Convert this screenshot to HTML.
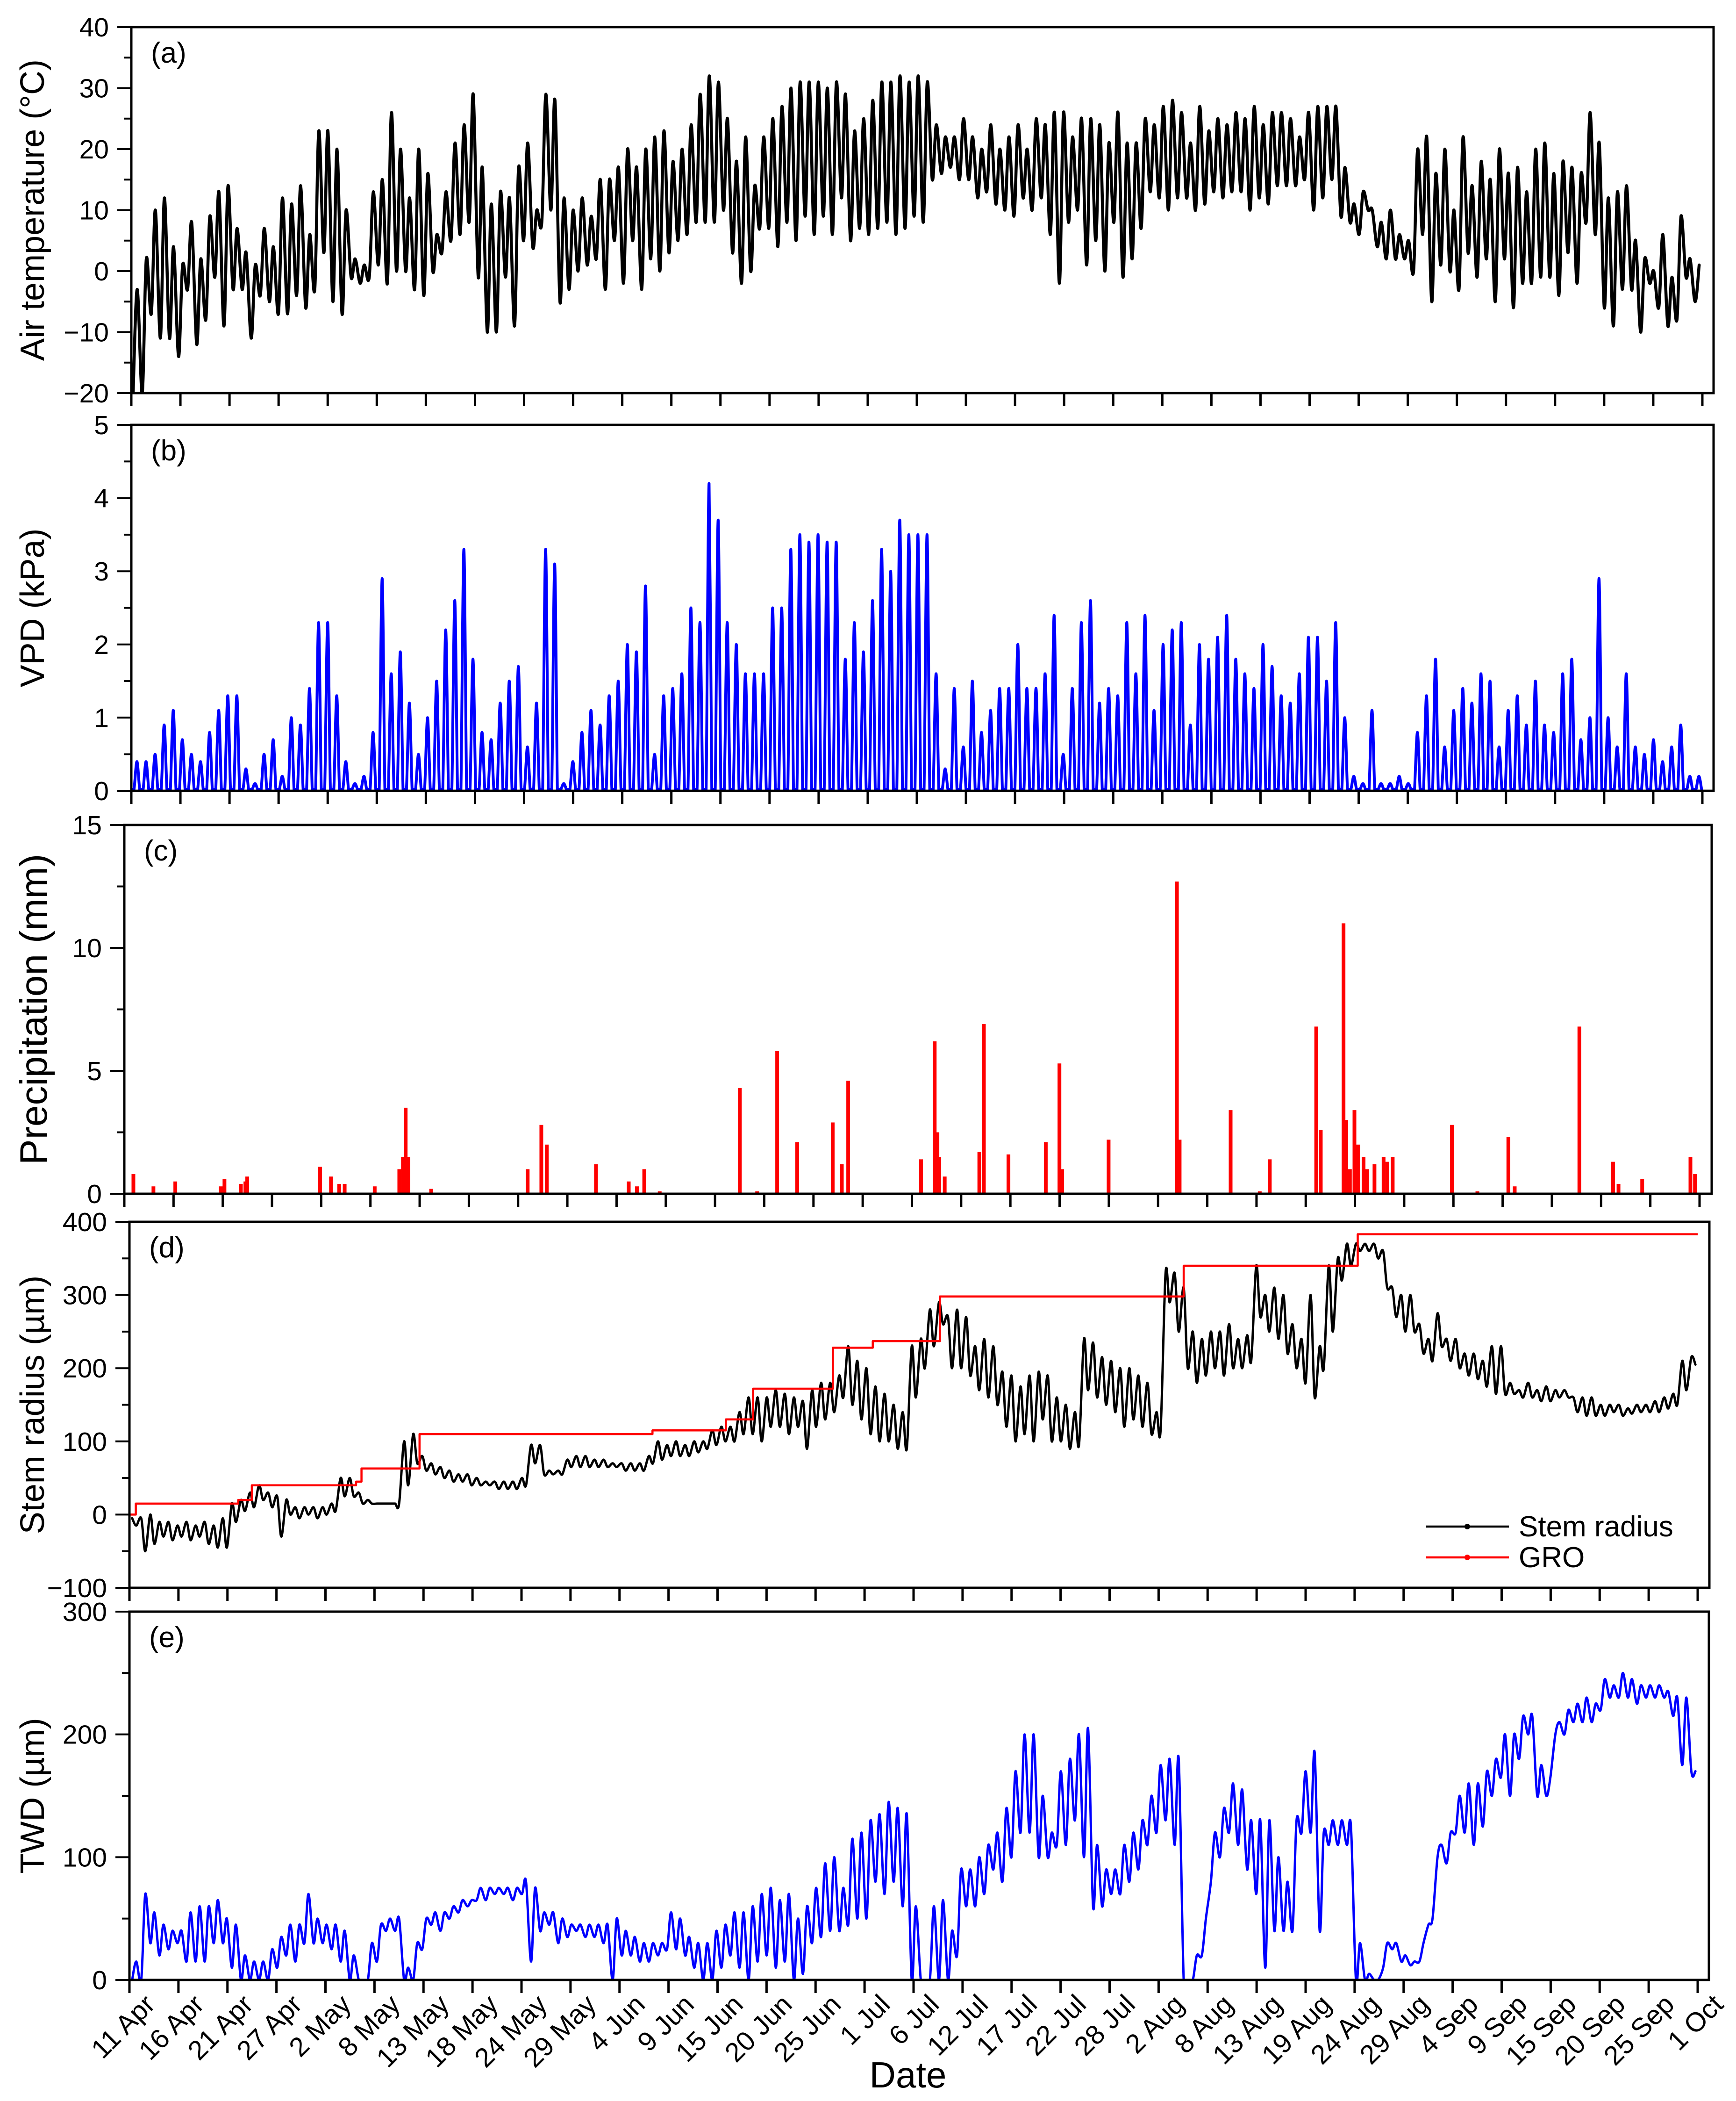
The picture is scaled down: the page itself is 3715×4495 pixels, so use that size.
<!DOCTYPE html>
<html><head><meta charset="utf-8"><style>html,body{margin:0;padding:0;background:#fff}svg{display:block}</style></head>
<body>
<svg id="chart" xmlns="http://www.w3.org/2000/svg" width="3715" height="4495" viewBox="0 0 3715 4495" font-family="Liberation Sans, Arial, sans-serif"></svg>
<script>
// ---- data ----
const dateLabels = ["11 Apr","16 Apr","21 Apr","27 Apr","2 May","8 May","13 May","18 May","24 May","29 May","4 Jun","9 Jun","15 Jun","20 Jun","25 Jun","1 Jul","6 Jul","12 Jul","17 Jul","22 Jul","28 Jul","2 Aug","8 Aug","13 Aug","19 Aug","24 Aug","29 Aug","4 Sep","9 Sep","15 Sep","20 Sep","25 Sep","1 Oct"];
const tempMax = [-3,2,10,12,4,1,8,2,9,13, 14,7,3,1,7,4,12,11,14,6, 23,23,20,10,2,1,13,15,26,20, 12,20,16,6,13,21,24,29,17,11, 13,12,17,21,10,29,28,12,10,12, 9,15,15,17,20,17,20,22,23,18, 20,24,29,32,31,25,18,22,14,22, 25,27,30,31,31,31,30,31,29,23, 25,28,31,31,32,31,32,31,24,22, 22,25,22,20,24,20,22,24,20,25, 24,26,26,22,25,25,24,21,26,21, 21,25,24,27,28,26,21,27,23,25, 24,26,25,27,24,26,26,25,22,26, 27,27,27,17,11,13,10,8,10,6, 5,20,22,16,20,10,22,14,18,15, 20,16,17,13,20,21,16,18,17,16, 26,21,12,13,14,5,2,0,6,-1, 9,2,1];
const tempMin = [-20,-20,-7,-11,-11,-14,-3,-12,-8,-1, -9,-3,-3,-11,-4,-5,-7,-7,-4,-6, -3,3,-5,-7,-1,-2,-1,1,-2,0, 0,-3,-4,0,3,5,6,8,-1,-10, -10,-1,-9,5,4,8,10,-5,-3,0, 1,2,-3,5,-2,5,-3,2,0,3, 5,6,8,8,8,10,3,-2,0,7, 7,4,8,5,9,6,9,6,12,5, 7,6,7,8,6,7,9,8,15,16, 17,15,15,12,13,11,10,9,12,10, 12,6,-2,8,10,1,5,0,8,-1, 2,7,13,12,10,12,12,10,11,13, 12,13,13,10,12,11,14,14,14,15, 10,12,15,9,8,6,10,4,2,2, 2,0,6,-5,1,0,-3,3,-1,2, -5,2,-6,-2,-2,-1,-1,-4,3,-2, 8,6,-6,-9,-3,-3,-10,-2,-6,-9, -8,-1,-5];
const vpdMax = [0.4,0.4,0.5,0.9,1.1,0.7,0.5,0.4,0.8,1.1, 1.3,1.3,0.3,0.1,0.5,0.7,0.2,1.0,0.9,1.4, 2.3,2.3,1.3,0.4,0.1,0.2,0.8,2.9,1.6,1.9, 1.2,0.5,1.0,1.5,2.2,2.6,3.3,1.8,0.8,0.7, 1.2,1.5,1.7,0.6,1.2,3.3,3.1,0.1,0.4,0.8, 1.1,0.9,1.3,1.5,2.0,1.9,2.8,0.5,1.3,1.4, 1.6,2.5,2.3,4.2,3.7,2.3,2.0,1.6,1.6,1.6, 2.5,2.5,3.3,3.5,3.4,3.5,3.4,3.4,1.8,2.3, 1.9,2.6,3.3,3.0,3.7,3.5,3.5,3.5,1.6,0.3, 1.4,0.6,1.5,0.8,1.1,1.4,1.4,2.0,1.4,1.4, 1.6,2.4,0.5,1.4,2.3,2.6,1.2,1.4,1.3,2.3, 1.6,2.4,1.1,2.0,2.2,2.3,0.9,2.0,1.8,2.1, 2.4,1.8,1.6,1.4,2.0,1.7,1.3,1.2,1.6,2.1, 2.1,1.5,2.3,1.0,0.2,0.1,1.1,0.1,0.1,0.2, 0.1,0.8,1.3,1.8,0.6,1.1,1.4,1.2,1.6,1.5, 0.6,1.1,1.3,0.9,1.5,0.9,0.8,1.6,1.8,0.7, 1.0,2.9,1.0,0.6,1.6,0.6,0.5,0.7,0.4,0.6, 0.9,0.2,0.2];
const vpdBase = 0.02;
const precipDays = [1.0,3.2,5.6,10.6,11.0,12.8,13.3,13.5,21.5,22.7,23.6,24.2,27.5,30.2,30.6,30.9,31.2,33.7,44.3,45.8,46.4,51.8,55.4,56.3,57.1,58.8,67.6,69.5,71.7,73.9,77.8,78.8,79.5,87.5,89.0,89.3,89.5,90.1,93.9,94.4,97.1,101.2,102.7,103.0,108.1,115.6,115.9,121.5,124.7,125.8,130.9,131.4,133.9,134.2,134.6,135.1,135.5,136.1,136.5,137.3,138.3,138.7,139.3,145.8,148.6,152.0,152.7,159.8,163.5,164.1,166.7,172.0,172.5];
const precipVals = [0.8,0.3,0.5,0.3,0.6,0.4,0.5,0.7,1.1,0.7,0.4,0.4,0.3,1.0,1.5,3.5,1.5,0.2,1.0,2.8,2.0,1.2,0.5,0.3,1.0,0.1,4.3,0.1,5.8,2.1,2.9,1.2,4.6,1.4,6.2,2.5,1.5,0.7,1.7,6.9,1.6,2.1,5.3,1.0,2.2,12.7,2.2,3.4,0.1,1.4,6.8,2.6,11.0,3.0,1.0,3.4,2.0,1.5,1.0,1.2,1.5,1.3,1.5,2.8,0.1,2.3,0.3,6.8,1.3,0.4,0.6,1.5,0.8];
const stemMax = [-5,-5,0,-10,-10,-15,-10,-15,-10,-15, -5,15,20,30,40,30,25,20,10,10, 10,10,15,50,50,30,20,15,15,15, 100,110,80,70,65,60,55,55,50,45, 45,45,45,50,95,95,60,60,75,80, 80,75,75,70,70,70,70,80,100,95, 100,95,100,100,115,120,120,140,160,160, 160,170,165,160,155,170,180,180,190,230, 210,200,175,165,150,140,230,240,280,290, 270,280,270,230,240,230,195,190,175,190, 195,190,160,150,140,240,235,215,210,200, 200,190,180,140,330,330,310,250,240,250, 250,260,240,245,340,300,310,300,260,240, 300,230,340,350,370,370,370,370,360,310, 300,300,260,240,275,240,240,220,220,210, 230,230,180,170,180,170,175,170,170,160, 160,160,150,150,150,145,150,150,155,160, 165,210,215];
const stemMin = [-15,-50,-40,-30,-35,-30,-35,-30,-40,-45, -45,-10,5,10,20,10,-30,0,-5,0, -5,0,5,25,25,15,15,15,15,15, 40,70,60,55,50,45,45,40,40,40, 35,35,35,40,70,55,55,55,65,65, 65,65,65,65,60,60,60,70,75,80, 80,80,85,90,95,100,100,110,110,100, 120,120,110,120,90,120,130,140,160,150, 130,110,100,100,90,90,160,200,230,260, 200,200,190,170,160,150,120,100,110,100, 130,100,100,90,95,170,160,150,140,120, 130,120,110,115,290,250,200,180,190,200, 190,200,200,210,270,250,240,220,200,180, 160,200,250,320,340,360,360,350,310,270, 250,250,220,210,230,210,200,190,185,175, 165,165,165,160,160,155,155,160,160,140, 135,135,135,140,135,138,140,140,140,145, 150,170,205];
const groDays = [0,0.7,12,13.5,25,25.6,32,57.7,65.8,68.8,77.6,82,89.4,116.3,135.5,173];
const groVals = [0,15,20,40,45,63,110,115,130,172,228,237,298,340,383,383];
const twdMax = [15,70,55,45,40,40,55,60,60,65, 50,45,20,15,15,25,35,45,45,70, 50,45,45,40,20,0,30,45,50,50, 10,30,50,55,55,60,65,65,75,75, 75,75,75,80,75,55,55,50,45,45, 45,45,45,50,40,35,30,30,30,55, 50,35,30,30,40,45,55,55,60,70, 75,65,70,50,60,75,95,100,75,115, 120,130,135,145,140,135,60,0,60,65, 40,90,90,100,110,120,140,170,200,200, 150,120,170,180,200,205,110,90,90,110, 120,130,150,175,180,180,0,20,50,120, 140,160,155,130,130,130,100,80,130,170, 185,120,130,130,125,30,5,0,30,30, 20,15,30,50,110,120,150,160,160,170, 180,200,200,215,215,175,165,210,220,225, 230,225,245,240,250,245,240,240,240,235, 230,230,170];
const twdMin = [0,0,30,20,25,30,15,15,15,30, 30,10,0,0,0,0,10,20,15,30, 30,30,25,15,0,0,0,15,40,40, 0,0,25,45,40,50,55,60,65,65, 70,70,65,70,15,40,45,30,35,40, 35,35,30,0,20,20,15,15,20,25, 25,20,10,0,0,10,20,10,0,15, 20,10,15,0,5,30,35,40,40,45, 50,50,80,70,80,60,0,0,0,0, 0,20,60,60,70,90,80,100,120,120, 100,100,110,110,130,100,60,60,70,70, 80,90,110,120,130,110,0,0,20,80, 100,120,110,90,70,10,40,40,40,120, 120,40,110,110,110,0,0,0,10,25, 15,12,15,45,100,95,120,120,110,125, 150,165,150,180,200,150,150,200,200,210, 210,210,220,230,230,230,225,230,230,230, 215,175,170];

// ---- layout ----
const NS = "http://www.w3.org/2000/svg";
const svg = document.getElementById('chart');
const NDAYS = 173;
function mk(tag, attrs, parent) {
  const e = document.createElementNS(NS, tag);
  for (const k in attrs) e.setAttribute(k, attrs[k]);
  (parent || svg).appendChild(e);
  return e;
}
const panels = [
  {id:'a', x0:281, x1:3667, tEnd:3643, top:58, bot:841, ymin:-20, ymax:40, major:10, minor:5, ticks:[-20,-10,0,10,20,30,40], title:'Air temperature (°C)', tsize:72},
  {id:'b', x0:281, x1:3667, tEnd:3643, top:909, bot:1692, ymin:0, ymax:5, major:1, minor:0.5, ticks:[0,1,2,3,4,5], title:'VPD (kPa)', tsize:72},
  {id:'c', x0:266, x1:3663, tEnd:3637, top:1765, bot:2554, ymin:0, ymax:15, major:5, minor:2.5, ticks:[0,5,10,15], title:'Precipitation (mm)', tsize:82},
  {id:'d', x0:277, x1:3658, tEnd:3633, top:2614, bot:3397, ymin:-100, ymax:400, major:100, minor:50, ticks:[-100,0,100,200,300,400], title:'Stem radius (µm)', tsize:72},
  {id:'e', x0:277, x1:3657, tEnd:3633, top:3448, bot:4236, ymin:0, ymax:300, major:100, minor:50, ticks:[0,100,200,300], title:'TWD (µm)', tsize:72}
];
function xs(p, d) { return p.x0 + d / NDAYS * (p.tEnd - p.x0); }
function ys(p, v) { return p.bot - (v - p.ymin) / (p.ymax - p.ymin) * (p.bot - p.top); }
function fmt(v) { return v < 0 ? '\u2212' + (-v) : String(v); }
const defs = mk('defs', {});

panels.forEach((p, pi) => {
  const g = mk('g', {});
  
  
  const cp = mk('clipPath', {id:'clip-' + p.id}, defs);
  mk('rect', {x:p.x0, y:p.top, width:p.x1 - p.x0, height:p.bot - p.top}, cp);
  for (let v = p.ymin; v <= p.ymax + 1e-9; v += p.minor) {
    const isMaj = Math.abs(v / p.major - Math.round(v / p.major)) < 1e-6;
    const y = ys(p, v);
    const t = mk('line', {x1:p.x0 - (isMaj ? 30 : 16), x2:p.x0, y1:y, y2:y, stroke:'#000', 'stroke-width':4}, g);
    
    
  }
  p.ticks.forEach(v => {
    const t = mk('text', {x:p.x0 - 48, y:ys(p, v) + 20, 'text-anchor':'end', 'font-size':57}, g);
    t.textContent = fmt(v);
    
    
  });
  dateLabels.forEach((lab, i) => {
    const x = p.x0 + i * (p.tEnd - p.x0) / (dateLabels.length - 1);
    const t = mk('line', {x1:x, x2:x, y1:p.bot, y2:p.bot + 28, stroke:'#000', 'stroke-width':5}, g);
    
    
    if (pi === panels.length - 1) {
      const tl = mk('text', {x:x + 58, y:p.bot + 56, 'text-anchor':'end', 'font-size':58, transform:'rotate(-45 ' + (x + 58) + ' ' + (p.bot + 56) + ')'}, g);
      tl.textContent = lab;
      
      
    }
  });
  const cy = (p.top + p.bot) / 2;
  const tt = mk('text', {x:0, y:0, 'text-anchor':'middle', 'font-size':p.tsize, transform:'translate(' + (pi === 2 ? 100 : 94) + ' ' + cy + ') rotate(-90)'}, g);
  tt.textContent = p.title;
  
  
  const pl = mk('text', {x:p.x0 + 42, y:p.top + 76, 'font-size':62}, g);
  pl.textContent = '(' + p.id + ')';
  
  
  p.g = g;
  p.pg = mk('g', {'clip-path':'url(#clip-' + p.id + ')'}, g);
});

function smoothPath(p, pts, color, w, name) {
  const P = pts.map(q => [xs(p, q[0]), ys(p, q[1])]);
  let d = 'M' + P[0][0].toFixed(1) + ',' + P[0][1].toFixed(1);
  for (let i = 0; i < P.length - 1; i++) {
    const p0 = P[Math.max(0, i - 1)], p1 = P[i], p2 = P[i + 1], p3 = P[Math.min(P.length - 1, i + 2)];
    const c1 = [p1[0] + (p2[0] - p0[0]) / 6, p1[1] + (p2[1] - p0[1]) / 6];
    const c2 = [p2[0] - (p3[0] - p1[0]) / 6, p2[1] - (p3[1] - p1[1]) / 6];
    d += 'C' + c1[0].toFixed(1) + ',' + c1[1].toFixed(1) + ' ' + c2[0].toFixed(1) + ',' + c2[1].toFixed(1) + ' ' + p2[0].toFixed(1) + ',' + p2[1].toFixed(1);
  }
  const e = mk('path', {d:d, fill:'none', stroke:color, 'stroke-width':w, 'stroke-linejoin':'round', 'stroke-linecap':'round'}, p.pg);
  
  
  return e;
}
function poly(p, pts, color, w, name) {
  const s = pts.map(q => xs(p, q[0]).toFixed(1) + ',' + ys(p, q[1]).toFixed(1)).join(' ');
  const e = mk('polyline', {points:s, fill:'none', stroke:color, 'stroke-width':w, 'stroke-linejoin':'round'}, p.pg);
  
  
  return e;
}
{ const pts = []; for (let d = 0; d < tempMax.length; d++) { pts.push([d + 0.2, tempMin[d]]); pts.push([d + 0.65, tempMax[d]]); }
  smoothPath(panels[0], pts, '#000', 6.5, 'air-temperature-line'); }
{ const pts = []; for (let d = 0; d < vpdMax.length; d++) { pts.push([d + 0.1, vpdBase]); pts.push([d + 0.3, vpdBase]); pts.push([d + 0.62, vpdMax[d]]); pts.push([d + 0.92, vpdBase]); }
  smoothPath(panels[1], pts, '#0000ff', 6, 'vpd-line'); }
{ const p = panels[2];
  precipDays.forEach((d, i) => {
    const y = ys(p, precipVals[i]);
    const r = mk('rect', {x:xs(p, d) - 4, y:y, width:8, height:p.bot - y, fill:'#ff0000'}, p.pg);
    
    
  }); }
{ const p = panels[3];
  const pts = []; for (let d = 0; d < stemMax.length; d++) { pts.push([d + 0.3, stemMax[d]]); pts.push([d + 0.75, stemMin[d]]); }
  smoothPath(p, pts, '#000', 5, 'stem-radius-line');
  const gp = []; groDays.forEach((d, i) => { if (i > 0) gp.push([d, groVals[i - 1]]); gp.push([d, groVals[i]]); });
  poly(p, gp, '#ff0000', 4.5, 'gro-line');
  const lg = mk('g', {}, p.g);
  
  
  [['Stem radius', '#000', 3266], ['GRO', '#ff0000', 3332]].forEach(it => {
    const l = mk('line', {x1:3052, x2:3229, y1:it[2], y2:it[2], stroke:it[1], 'stroke-width':4.5}, lg);
    
    
    const c = mk('circle', {cx:3140, cy:it[2], r:6, fill:it[1]}, lg);
    
    
    const t = mk('text', {x:3250, y:it[2] + 21, 'font-size':62}, lg);
    t.textContent = it[0];
    
    
  }); }
{ const pts = []; for (let d = 0; d < twdMax.length; d++) { pts.push([d + 0.3, twdMin[d]]); pts.push([d + 0.75, twdMax[d]]); }
  smoothPath(panels[4], pts, '#0000ff', 5, 'twd-line'); }
panels.forEach(p => {
  const f = mk('rect', {x:p.x0, y:p.top, width:p.x1 - p.x0, height:p.bot - p.top, fill:'none', stroke:'#000', 'stroke-width':5}, p.g);
  
  
});
const xt = mk('text', {x:1943, y:4466, 'text-anchor':'middle', 'font-size':78});
xt.textContent = 'Date';


</script>
</body></html>
